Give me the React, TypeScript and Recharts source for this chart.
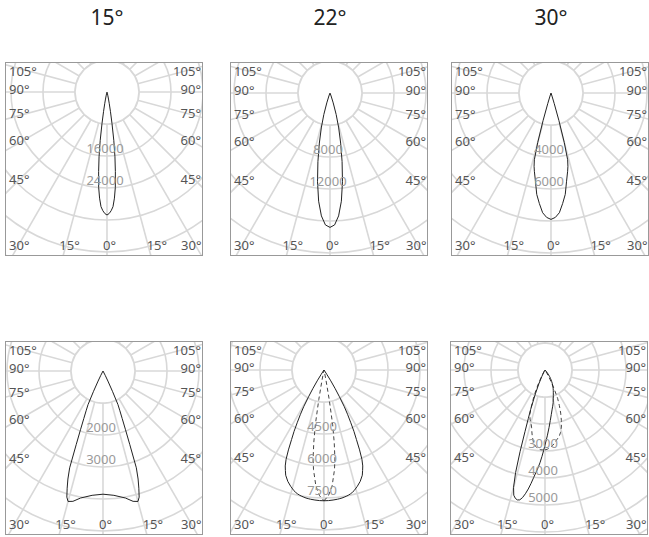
import React from "react";
import {
  RadarChart,
  Radar,
  PolarGrid,
  PolarAngleAxis,
  PolarRadiusAxis
} from "recharts";

// luminous intensity (cd) against angle from nadir (deg)
// symmetric beams are given for one half only and mirrored
const ANGLE_TICKS = [0, 15, 30, 45, 60, 75, 90, 105, 120, 135, 150, 165, 180, 195, 210, 225, 240, 255, 270, 285, 300, 315, 330, 345];

const b15Angles = [0, 1, 2, 3, 4, 5, 6, 7, 8, 9, 10, 11, 12, 13, 14, 16, 20, 30, 45, 60, 75, 90, 105, 120, 135, 150, 165, 180];
const b15Cd = [30750, 30400, 29700, 28700, 26600, 23900, 20000, 16300, 12200, 8000, 5000, 3000, 1800, 1000, 500, 150, 0, 0, 0, 0, 0, 0, 0, 0, 0, 0, 0, 0];

const b22Angles = [0, 2, 4, 6, 8, 10, 12, 14, 16, 18, 20, 22, 25, 30, 45, 60, 75, 90, 105, 120, 135, 150, 165, 180];
const b22Cd = [16800, 16500, 15400, 13600, 11200, 8700, 6400, 4500, 2800, 1300, 400, 100, 0, 0, 0, 0, 0, 0, 0, 0, 0, 0, 0, 0];

const b30Angles = [0, 2, 4, 6, 8, 10, 12, 13, 14, 15, 16, 17, 18, 20, 25, 30, 45, 60, 75, 90, 105, 120, 135, 150, 165, 180];
const b30Cd = [7900, 7780, 7500, 6950, 6400, 5600, 5000, 4700, 4300, 3200, 1800, 700, 200, 0, 0, 0, 0, 0, 0, 0, 0, 0, 0, 0, 0, 0];

const wideAngles = [0, 5, 10, 13, 15, 16, 17, 18, 19, 20, 21, 22, 23, 24, 25, 26, 27, 30, 35, 45, 60, 75, 90, 105, 120, 135, 150, 165, 180];
const wideCd = [3850, 3900, 4030, 4180, 4220, 4100, 3830, 3550, 3200, 2450, 1950, 1600, 1350, 1150, 700, 350, 150, 0, 0, 0, 0, 0, 0, 0, 0, 0, 0, 0, 0];

// this panel's scale starts at 1500 in the centre
const dropAngles = [0, 2, 4, 6, 7, 8, 9, 10, 11, 12, 13, 14, 16, 18, 20, 21, 22, 23, 24, 25, 26, 27, 28, 29, 30, 31, 32, 33, 34, 36, 40, 45, 60, 75, 90, 105, 120, 135, 150, 165, 180];
const dropC0 = [7630, 7625, 7610, 7590, 7575, 7560, 7535, 7510, 7480, 7440, 7390, 7330, 7170, 6990, 6750, 6550, 6350, 6050, 5600, 5100, 4700, 4250, 3850, 3450, 2950, 2500, 2100, 1750, 1550, 1500, 1500, 1500, 1500, 1500, 1500, 1500, 1500, 1500, 1500, 1500, 1500];
const dropC90 = [7630, 7400, 6950, 6200, 5700, 4950, 4100, 2900, 2000, 1600, 1500, 1500, 1500, 1500, 1500, 1500, 1500, 1500, 1500, 1500, 1500, 1500, 1500, 1500, 1500, 1500, 1500, 1500, 1500, 1500, 1500, 1500, 1500, 1500, 1500, 1500, 1500, 1500, 1500, 1500, 1500];

// asymmetric beam, negative angles to the left
const tiltAngles = [-180, -165, -150, -135, -120, -105, -90, -75, -60, -45, -40, -35, -32, -30, -28, -26, -24, -22, -20, -19, -18, -17, -16, -15, -14, -13, -12, -11, -10, -9, -8, -7, -6, -5, -4, -3, -2, -1, 0, 2, 4, 6, 8, 10, 12, 14, 16, 18, 20, 22, 24, 26, 28, 30, 33, 35, 40, 45, 60, 75, 90, 105, 120, 135, 150, 165];
const tiltC0 = [0, 0, 0, 0, 0, 0, 0, 0, 0, 0, 0, 0, 0, 60, 120, 280, 560, 950, 1550, 1900, 2400, 3150, 3950, 4500, 4780, 4880, 4920, 4900, 4800, 4640, 4450, 4230, 4000, 3800, 3620, 3420, 3200, 2990, 2780, 2440, 2140, 1880, 1670, 1500, 1370, 1250, 1110, 1000, 900, 820, 740, 660, 580, 500, 380, 300, 130, 0, 0, 0, 0, 0, 0, 0, 0, 0];
const tiltC90 = [0, 0, 0, 0, 0, 0, 0, 0, 0, 0, 0, 0, 0, 80, 260, 540, 840, 1180, 1550, 1700, 1800, 1900, 1960, 2020, 2100, 2200, 2340, 2480, 2600, 2720, 2790, 2850, 2890, 2920, 2940, 2960, 2960, 2960, 2960, 2930, 2870, 2800, 2700, 2600, 2520, 2380, 2200, 1960, 1700, 1420, 1150, 760, 400, 150, 0, 0, 0, 0, 0, 0, 0, 0, 0, 0, 0, 0];

const W = 196;
const H = 192;
const FONT = "'Noto Sans', 'Open Sans', sans-serif";

type Curve = { key: string; values: number[]; dashed?: boolean };
type PanelCfg = {
  left: number;
  top: number;
  cx: number;
  cy: number;
  title?: string;
  ring: number;
  rings: number;
  step: number;
  base: number;
  labels: number[];
  angles: number[];
  symmetric: boolean;
  curves: Curve[];
};

const panels: PanelCfg[] = [
  { left: 5, top: 62, cx: 101, cy: 29, title: "15°", ring: 32, rings: 7, step: 8000, base: 0, labels: [16000, 24000], angles: b15Angles, symmetric: true, curves: [{ key: "c0", values: b15Cd }] },
  { left: 230, top: 62, cx: 99, cy: 30, title: "22°", ring: 32, rings: 7, step: 4000, base: 0, labels: [8000, 12000], angles: b22Angles, symmetric: true, curves: [{ key: "c0", values: b22Cd }] },
  { left: 451, top: 62, cx: 99, cy: 30, title: "30°", ring: 32, rings: 7, step: 2000, base: 0, labels: [4000, 6000], angles: b30Angles, symmetric: true, curves: [{ key: "c0", values: b30Cd }] },
  { left: 5, top: 341, cx: 97, cy: 29, ring: 32, rings: 7, step: 1000, base: 0, labels: [2000, 3000], angles: wideAngles, symmetric: true, curves: [{ key: "c0", values: wideCd }] },
  { left: 230, top: 341, cx: 93, cy: 28, ring: 32, rings: 7, step: 1500, base: 1500, labels: [4500, 6000, 7500], angles: dropAngles, symmetric: true, curves: [{ key: "c90", values: dropC90, dashed: true }, { key: "c0", values: dropC0 }] },
  { left: 450, top: 341, cx: 94, cy: 28, ring: 27, rings: 8, step: 1000, base: 0, labels: [3000, 4000, 5000], angles: tiltAngles, symmetric: false, curves: [{ key: "c90", values: tiltC90, dashed: true }, { key: "c0", values: tiltC0 }] }
];

function buildRows(cfg: PanelCfg) {
  const rows: Record<string, number>[] = [];
  const add = (a: number, i: number) => {
    const row: Record<string, number> = { theta: (a + 360) % 360, disk: cfg.base + cfg.step };
    cfg.curves.forEach((c) => (row[c.key] = c.values[i]));
    rows.push(row);
  };
  cfg.angles.forEach((a, i) => {
    add(a, i);
    if (cfg.symmetric && a > 0 && a < 180) add(-a, i);
  });
  return rows.sort((p, q) => p.theta - q.theta);
}

// degree labels sit where each ray leaves the frame
const AngleLabel = (props: any) => {
  const { payload, cfg } = props;
  const t = payload.value;
  if (t >= 360) return <g />;
  const a = t > 180 ? 360 - t : t;
  if (a > 105) return <g />;
  const sx = t > 180 ? -1 : 1;
  const rad = (a * Math.PI) / 180;
  let x: number;
  let y: number;
  let anchor = "start";
  if (a <= 30) {
    const xi = cfg.cx + sx * (H - cfg.cy) * Math.tan(rad);
    x = Math.min(Math.max(xi - 4, 3), W - 21);
    y = H - 5;
  } else {
    const yi = cfg.cy + W / 2 / Math.tan(rad);
    y = Math.max(yi + 2 - (90 - a) * 0.18, 13);
    if (sx > 0) {
      x = W - 1;
      anchor = "end";
    } else {
      x = 3;
    }
  }
  return (
    <text x={x} y={y} textAnchor={anchor} fontSize={13} fill="#555" fontFamily={FONT}>
      {a}°
    </text>
  );
};

const RingLabel = (props: any) => {
  const { x, y, payload, cfg } = props;
  if (!cfg.labels.includes(payload.value)) return <g />;
  return (
    <text x={x - 2} y={y - 3} textAnchor="middle" fontSize={13} fill="#9a9a9a" fontFamily={FONT}>
      {payload.value}
    </text>
  );
};

function Panel({ cfg }: { cfg: PanelCfg }) {
  const rows = buildRows(cfg);
  return (
    <div
      style={{
        position: "absolute",
        left: cfg.left,
        top: cfg.top,
        width: W,
        height: H,
        border: "1px solid #999",
        background: "#fff"
      }}
    >
      <RadarChart
        width={W}
        height={H}
        data={rows}
        cx={cfg.cx}
        cy={cfg.cy}
        outerRadius={cfg.ring * cfg.rings}
        startAngle={-90}
        endAngle={270}
        margin={{ top: 0, right: 0, bottom: 0, left: 0 }}
      >
        <PolarGrid gridType="circle" stroke="#d8d8d8" strokeWidth={1.6} />
        <PolarAngleAxis
          dataKey="theta"
          type="number"
          domain={[0, 360]}
          ticks={ANGLE_TICKS}
          tickCount={25}
          axisLine={false}
          tickLine={false}
          tick={(p: any) => <AngleLabel {...p} cfg={cfg} />}
        />
        <PolarRadiusAxis
          angle={-90}
          type="number"
          domain={[cfg.base, cfg.base + cfg.step * cfg.rings]}
          tickCount={cfg.rings + 1}
          allowDataOverflow
          axisLine={false}
          tickLine={false}
          tick={(p: any) => <RingLabel {...p} cfg={cfg} />}
        />
        <Radar
          dataKey="disk"
          fill="#fff"
          fillOpacity={1}
          stroke="#d8d8d8"
          strokeWidth={1.6}
          isAnimationActive={false}
        />
        {cfg.curves.map((c) => (
          <Radar
            key={c.key}
            dataKey={c.key}
            fill="none"
            fillOpacity={0}
            stroke={c.dashed ? "#444" : "#222"}
            strokeWidth={1}
            strokeDasharray={c.dashed ? "4 3" : undefined}
            isAnimationActive={false}
          />
        ))}
      </RadarChart>
    </div>
  );
}

export default function App() {
  return (
    <div style={{ position: "absolute", left: 0, top: 0, width: 649, height: 537, background: "#fff", fontFamily: FONT }}>
      {panels.map((cfg, i) =>
        cfg.title ? (
          <div
            key={"t" + i}
            style={{
              position: "absolute",
              left: cfg.left + cfg.cx + 1 - 40,
              width: 80,
              top: 3,
              textAlign: "center",
              fontSize: 21,
              color: "#222"
            }}
          >
            {cfg.title}
          </div>
        ) : null
      )}
      {panels.map((cfg, i) => (
        <Panel key={i} cfg={cfg} />
      ))}
    </div>
  );
}
